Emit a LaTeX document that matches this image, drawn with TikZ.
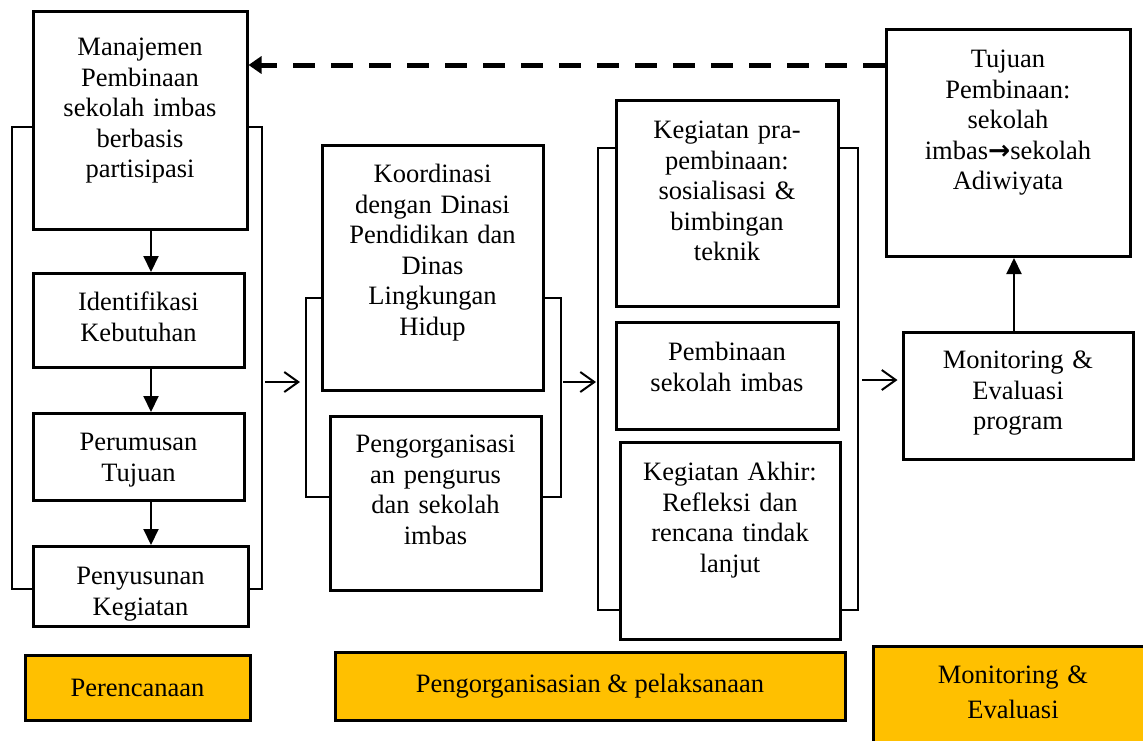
\documentclass[tikz,border=0pt]{standalone}
\usepackage{fontspec}
\setmainfont{Liberation Serif}
\newfontfamily\arrowfont{DejaVu Sans}
\usetikzlibrary{arrows.meta}
\definecolor{phasegold}{HTML}{FFC000}
\tikzset{
  stepbox/.style={draw, line width=3pt, fill=white, inner sep=0pt, align=center,
    anchor=north, text height=38pt, font=\fontsize{26.5}{30.5}\selectfont},
  phasebox/.style={draw, line width=3pt, fill=phasegold, inner sep=0pt, align=center,
    font=\fontsize{26.5}{30.5}\selectfont},
  bracket/.style={line width=2.2pt},
  flowarrow/.style={line width=2pt, -{Straight Barb[length=14pt,width=20pt,line width=2pt]}},
  downarrow/.style={line width=2pt, -{Triangle[length=16pt,width=15pt]}},
  backarrow/.style={line width=5pt, dash pattern=on 22pt off 16pt, -{Triangle[length=13pt,width=17pt]}}
}
\begin{document}
\begin{tikzpicture}[x=1pt,y=1pt,yscale=-1]
\useasboundingbox (0,0) rectangle (1143,740);

%Brackets
\draw[bracket] (33,127) -- (12,127) -- (12,589) -- (33,589);
\draw[bracket] (245,127) -- (262,127) -- (262,589) -- (245,589);
\draw[bracket] (322,298) -- (306,298) -- (306,497) -- (330,497);
\draw[bracket] (541,298) -- (561,298) -- (561,497) -- (541,497);
\draw[bracket] (616,148) -- (598,148) -- (598,610) -- (620,610);
\draw[bracket] (838,148) -- (858,148) -- (858,610) -- (840,610);
\coordinate (planR) at (262,382);
\coordinate (orgL) at (306,382);
\coordinate (orgR) at (561,382);
\coordinate (actL) at (598,382);
\coordinate (actR) at (858,380);

% Perencanaan column
\node[stepbox, text width=214pt, text height=44pt, text depth=174pt] (manaj) at (140,10)
  {Manajemen\\Pembinaan\\sekolah imbas\\berbasis\\partisipasi};
\node[stepbox, text width=211pt, text height=37pt, text depth=57pt] (ident) at (138.5,272)
  {Identifikasi\\Kebutuhan};
\node[stepbox, text width=211pt, text height=37pt, text depth=50pt] (perum) at (138.5,412)
  {Perumusan\\Tujuan};
\node[stepbox, text width=215pt, text depth=42pt] (penyus) at (140.5,545)
  {Penyusunan\\Kegiatan};

% Pengorganisasian column
\node[stepbox, text width=221pt, text height=37pt, text depth=208pt] (koord) at (432.5,144)
  {Koordinasi\\dengan Dinasi\\Pendidikan dan\\Dinas\\Lingkungan\\Hidup};
\node[stepbox, text width=211pt, text height=36pt, text depth=138pt] (pengorg) at (435.5,415)
  {Pengorganisasi\\an pengurus\\dan sekolah\\imbas};

% Pelaksanaan column
\node[stepbox, text width=222pt, text depth=168pt] (prabin) at (727,99)
  {Kegiatan pra-\\pembinaan:\\sosialisasi \&\\bimbingan\\teknik};
\node[stepbox, text width=222pt, text depth=69pt] (pembin) at (727,321)
  {Pembinaan\\sekolah imbas};
\node[stepbox, text width=220pt, text depth=159pt] (akhir) at (730,441)
  {Kegiatan Akhir:\\Refleksi dan\\rencana tindak\\lanjut};

% Monitoring column
\node[stepbox, text width=244pt, text depth=189pt] (tujuan) at (1008,28)
  {Tujuan\\Pembinaan:\\sekolah\\imbas{\arrowfont\bfseries →}sekolah\\Adiwiyata};
\node[stepbox, text width=230pt, text height=36pt, text depth=91pt] (monit) at (1018,331)
  {Monitoring \&\\Evaluasi\\program};

% Phase labels
\node[phasebox, minimum width=225pt, minimum height=65pt] (perenc) at (137.5,687.5) {Perencanaan};
\node[phasebox, minimum width=510pt, minimum height=68pt] (pengpel) at (590,686) {Pengorganisasian \& pelaksanaan};
\node[phasebox, anchor=north, text width=280pt, text height=37pt, text depth=80pt,
  font=\fontsize{26.5}{35}\selectfont] (monev) at (1013,645) {Monitoring \&\\Evaluasi};

% Arrows
\coordinate (stemx) at (151,0);
\coordinate (upx) at (1014,0);
\coordinate (dashy) at (0,65);
\draw[downarrow] (manaj.south -| stemx) -- (ident.north -| stemx);
\draw[downarrow] (ident.south -| stemx) -- (perum.north -| stemx);
\draw[downarrow] (perum.south -| stemx) -- (penyus.north -| stemx);
\draw[downarrow] (monit.north -| upx) -- (tujuan.south -| upx);
\draw[flowarrow, shorten <=3pt, shorten >=6pt] (planR) -- (orgL);
\draw[flowarrow, shorten <=2pt, shorten >=2pt] (orgR) -- (actL);
\draw[flowarrow, shorten <=4pt, shorten >=4pt] (actR) -- (monit.west |- actR);
\draw[backarrow] (tujuan.west |- dashy) -- (manaj.east |- dashy);

\end{tikzpicture}
\end{document}
